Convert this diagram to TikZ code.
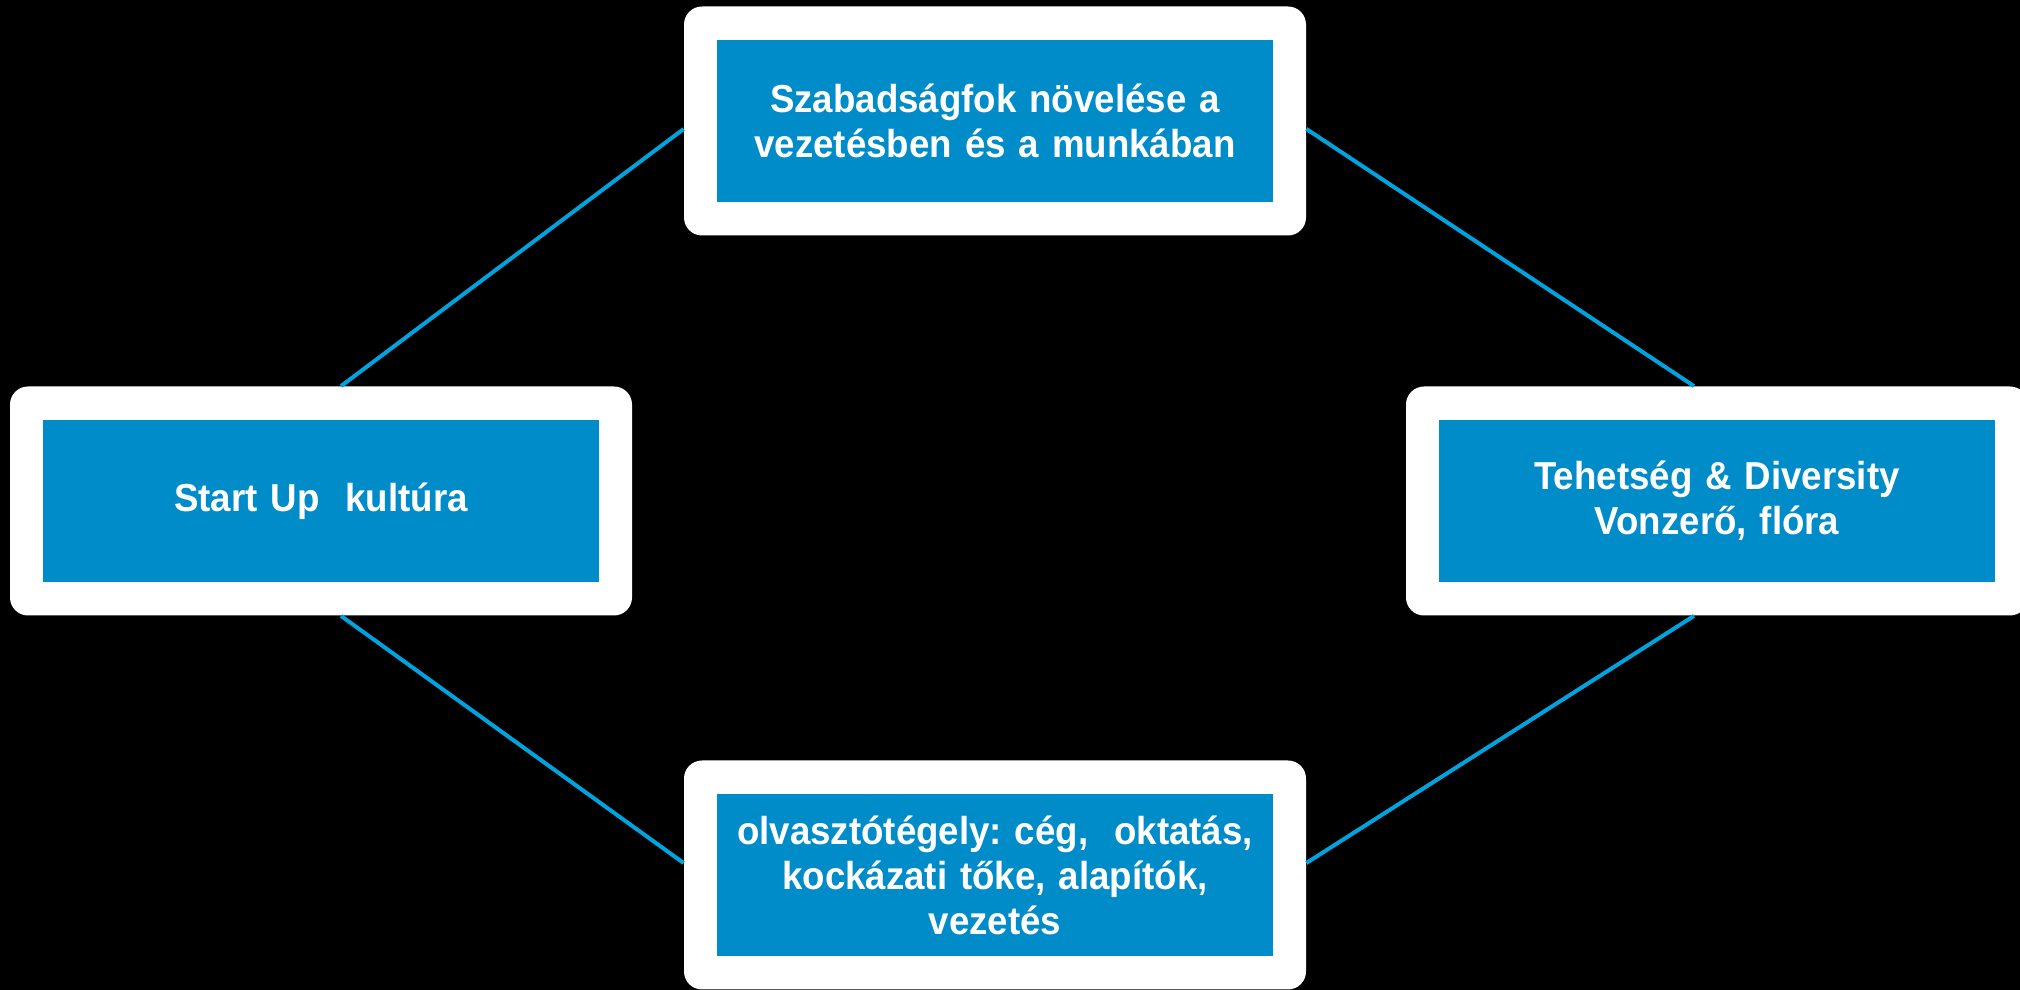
\documentclass[tikz,border=0pt]{standalone}
\usepackage{fontspec}
\setmainfont{Liberation Sans}[FakeStretch=0.94]
\usepackage{tikz}
\frenchspacing

\begin{document}
\begin{tikzpicture}[x=0.5pt,y=0.5pt]

\definecolor{boxblue}{RGB}{0,139,201}
\definecolor{linkblue}{RGB}{0,163,222}

\tikzset{
  frame/.style={fill=white, rounded corners=9pt, inner sep=0pt,
    minimum width=311pt, minimum height=114.5pt},
  card/.style={fill=boxblue, text=white, inner sep=0pt, align=center,
    font=\bfseries\fontsize{19.5}{22.5}\selectfont,
    text width=270pt, minimum width=278pt, minimum height=81pt},
  link/.style={draw=linkblue, line width=2pt}
}

% background
\fill[black] (0,0) rectangle (2020,990);
\useasboundingbox (0,0) rectangle (2020,990);

% white frames
\node[frame] (topf) at (995,869) {};
\node[frame] (leftf) at (321,489) {};
\node[frame] (rightf) at (1717,489) {};
\node[frame] (botf) at (995,115) {};

% blue cards
\node[card] (top) at (topf) {Szabadságfok növelése a\\vezetésben és a munkában};
\node[card] (left) at (leftf) {Start Up\ \ kultúra};
\node[card] (right) at (rightf) {Tehetség \& Diversity\\Vonzerő, flóra};
\node[card] (bot) at (botf) {olvasztótégely: cég,\ \ oktatás,\\kockázati tőke, alapítók,\\vezetés};

% links
\draw[link] ([xshift=10pt]leftf.north) -- ([yshift=-4pt]topf.west);
\draw[link] ([yshift=-4pt]topf.east) -- ([xshift=-11.5pt]rightf.north);
\draw[link] ([xshift=10pt]leftf.south) -- ([yshift=6pt]botf.west);
\draw[link] ([yshift=6pt]botf.east) -- ([xshift=-11.5pt]rightf.south);

\end{tikzpicture}
\end{document}
